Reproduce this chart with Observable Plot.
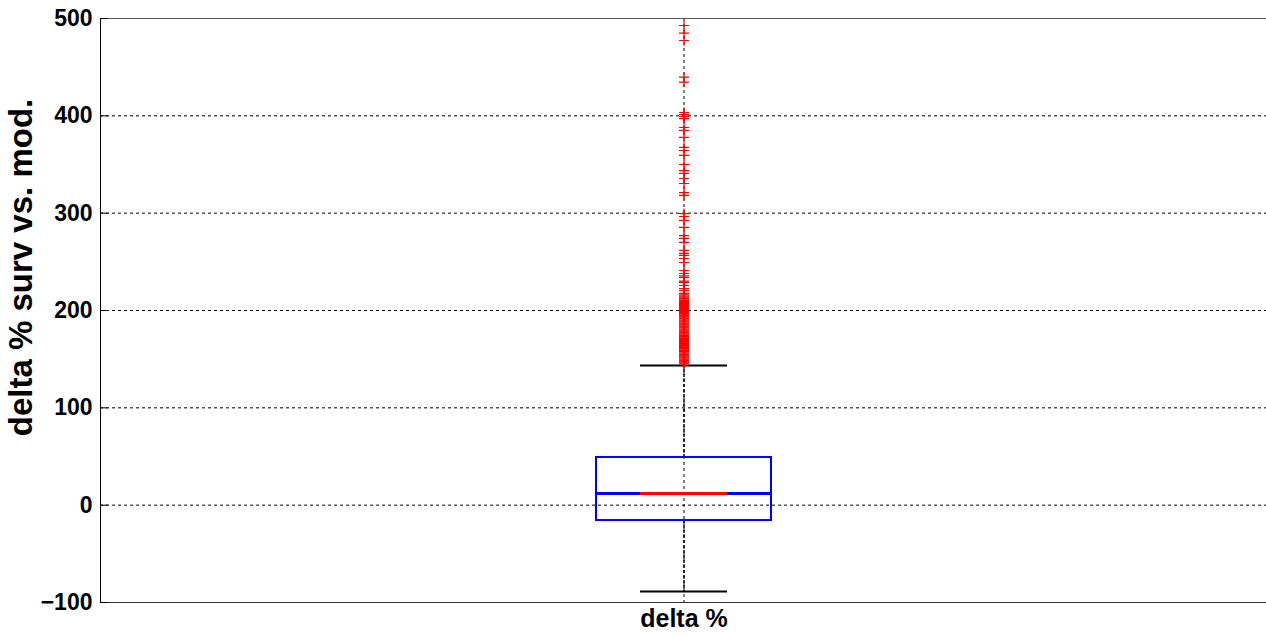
<!DOCTYPE html>
<html>
<head>
<meta charset="utf-8">
<script src="https://cdn.jsdelivr.net/npm/d3@7"></script>
<script src="https://cdn.jsdelivr.net/npm/@observablehq/plot@0.6"></script>
<style>
  html, body { margin: 0; padding: 0; background: #fff; }
  #chart { width: 1266px; height: 637px; overflow: hidden; }
</style>
</head>
<body>
<div id="chart"></div>
<script>
// ---- data ----
const categories = ["delta %"];
const yLabel = "delta % surv vs. mod.";
const yTicks = [-100, 0, 100, 200, 300, 400, 500];
const q1 = [-15.8];
const median = [12];
const q3 = [49];
const whiskerLow = [-88.7];
const whiskerHigh = [143.5];
const outliers = [
  492.8, 484.9, 477.4, 439.7, 434.7, 403.4, 401.3, 399.3, 397.2, 388, 385, 377.8,
  367.5, 364.4, 359.3, 350, 343.8, 340.8, 335.6, 330.5, 321.2, 318.2,
  299.6, 296.6, 292.5, 285.3, 277, 274, 270, 261.7, 258.6, 256.6, 253.4, 249.3,
  241.1, 238, 235.5, 233.9, 230.2, 228.8, 225.7, 222.6, 220.6,
  217.5, 216, 214.8, 213.6, 212.4, 211, 210.2, 209.1, 208, 207.3, 206.2, 205, 204.1,
  203, 202.2, 201.1, 200, 199.2, 198, 197.1, 196.3, 195, 194.2, 193.1, 192, 191.3,
  190.1, 189, 188.2, 187, 186.1, 185.3, 184, 183.2, 182.1, 181, 180.2, 179.1, 178,
  177.2, 176.1, 175, 174.3, 173.1, 172, 171.2, 170.1, 169, 168.3, 167.2, 166, 165.1,
  164.2, 163, 162.1, 161, 160.2, 159.1, 158, 157.3, 156.1, 155, 154.2, 153.1, 152,
  151.2, 150.1, 149, 148.3, 147.2, 146.1, 145.2
];

// ---- build table ----
const stats = categories.map((c, i) => ({
  cat: c, q1: q1[i], med: median[i], q3: q3[i], lo: whiskerLow[i], hi: whiskerHigh[i]
}));
const outlierRows = outliers.map(v => ({cat: categories[0], v}));

const plusSymbol = {
  draw(ctx, size) {
    const r = Math.sqrt(size / Math.PI);
    ctx.moveTo(-r, 0); ctx.lineTo(r, 0);
    ctx.moveTo(0, -r); ctx.lineTo(0, r);
  }
};

const capInset = 44;
const font = "'Liberation Sans', Arial, Helvetica, sans-serif";

const chart = Plot.plot({
  width: 1266,
  height: 637,
  marginLeft: 100,
  marginRight: 0,
  marginTop: 18,
  marginBottom: 35,
  style: {fontFamily: font, fontWeight: "bold", fontSize: "23px", color: "#000", background: "#fff"},
  x: {type: "band", domain: categories, paddingInner: 0, paddingOuter: 2.83, align: 0.5},
  y: {domain: [-100, 500]},
  marks: [
    Plot.gridY(yTicks, {stroke: "#000", strokeOpacity: 1, strokeDasharray: "3,3"}),
    Plot.gridX(categories, {stroke: "#000", strokeOpacity: 1, strokeDasharray: "3,3"}),
    Plot.frame({anchor: "top", stroke: "#555"}),
    Plot.frame({anchor: "left", stroke: "#000"}),
    Plot.frame({anchor: "bottom", stroke: "#333"}),
    // whiskers
    Plot.ruleX(stats, {x: "cat", y1: "q3", y2: "hi", stroke: "#000", strokeWidth: 1.5, strokeDasharray: "3,2"}),
    Plot.ruleX(stats, {x: "cat", y1: "q1", y2: "lo", stroke: "#000", strokeWidth: 1.5, strokeDasharray: "3,2"}),
    Plot.tickY(stats, {x: "cat", y: "hi", insetLeft: capInset, insetRight: capInset, stroke: "#000", strokeWidth: 2}),
    Plot.tickY(stats, {x: "cat", y: "lo", insetLeft: capInset, insetRight: capInset, stroke: "#000", strokeWidth: 2}),
    // box
    Plot.barY(stats, {x: "cat", y1: "q1", y2: "q3", fill: "none", stroke: "#0000ff", strokeWidth: 2}),
    Plot.tickY(stats, {x: "cat", y: "med", stroke: "#0000ff", strokeWidth: 3}),
    Plot.tickY(stats, {x: "cat", y: "med", insetLeft: capInset, insetRight: capInset, stroke: "#ff0000", strokeWidth: 3}),
    // outliers
    Plot.dot(outlierRows, {x: "cat", y: "v", symbol: plusSymbol, r: 5, stroke: "#ff0000", strokeWidth: 1.2, fill: "none"}),
    // axes
    Plot.axisY(yTicks, {tickSize: -8, tickPadding: 16, label: null, fontSize: 23, fontWeight: "bold", fill: "#000", stroke: "#000"}),
    Plot.axisX(categories, {tickSize: 0, tickPadding: 7, label: null, fontSize: 25, fontWeight: "bold", fill: "#000"}),
    Plot.text([yLabel], {frameAnchor: "left", textAnchor: "middle", rotate: -90, dx: -79, dy: -43, fontSize: 33, fontWeight: "bold", fill: "#000"})
  ]
});
document.getElementById("chart").appendChild(chart);
</script>
</body>
</html>
